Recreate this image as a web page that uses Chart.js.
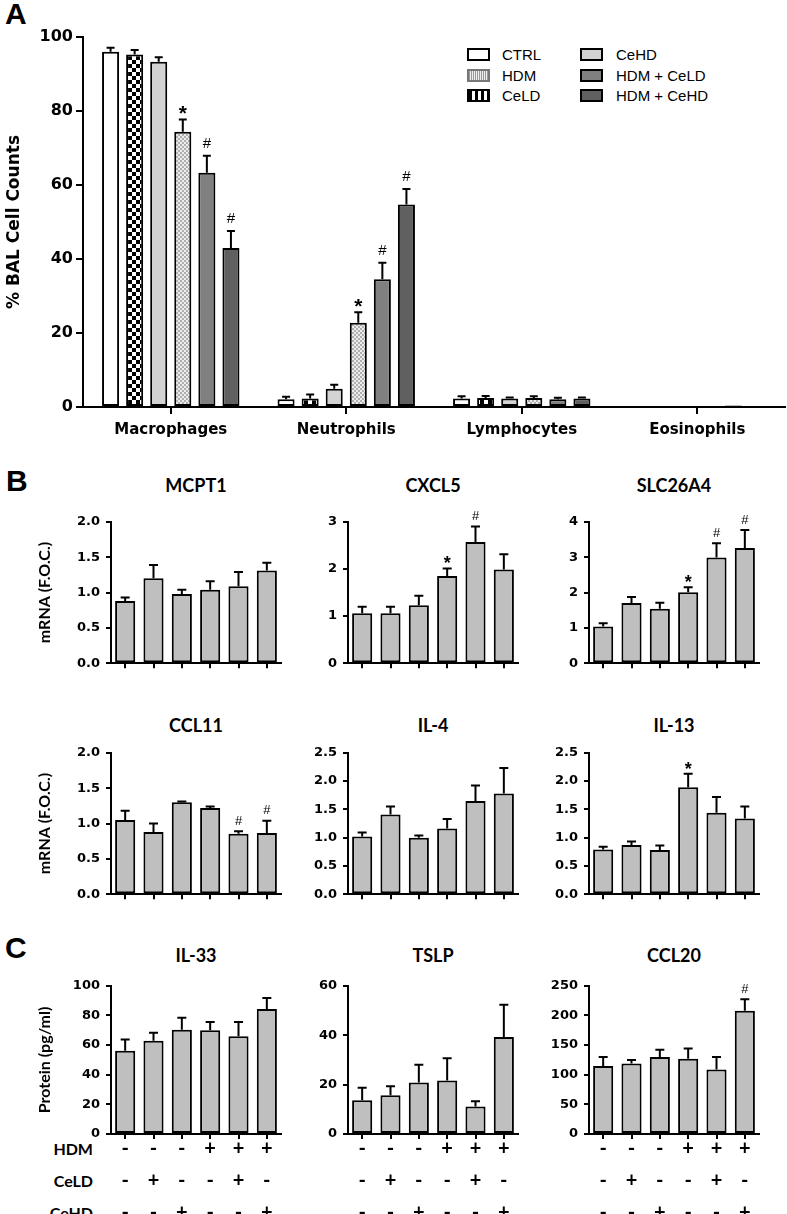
<!DOCTYPE html>
<html>
<head>
<meta charset="utf-8">
<script src="https://cdn.jsdelivr.net/npm/chart.js@4.4.0/dist/chart.umd.min.js"></script>
<style>
  body { margin: 0; background: #fff; width: 787px; height: 1214px; position: relative; overflow: hidden; }
  canvas { position: absolute; }
  .letter { position: absolute; font: bold 30px 'Liberation Sans', Arial, sans-serif; line-height: 30px; }
  .ttl { position: absolute; width: 200px; text-align: center; font: bold 18px Lato, sans-serif; line-height: 22px; }
  .row { position: absolute; width: 80px; text-align: right; font: bold 16px Lato, sans-serif; line-height: 20px; }
  .lg { position: absolute; font: 15px 'Liberation Sans', Arial, sans-serif; line-height: 18px; }
  .sw { position: absolute; width: 19px; height: 9px; border: 2px solid #000; }
</style>
</head>
<body>

<div class="letter" style="left:5px;top:-1px">A</div>
<div class="letter" style="left:6px;top:466px">B</div>
<div class="letter" style="left:5px;top:933px">C</div>

<!-- legend panel A -->
<div class="sw" style="left:467px;top:48px;background:#fff"></div>
<div class="lg" style="left:502px;top:46px">CTRL</div>
<div class="sw" style="left:467px;top:69px;border-color:#777;background:repeating-linear-gradient(90deg,#999 0 1px,#eee 1px 2px)"></div>
<div class="lg" style="left:502px;top:67px">HDM</div>
<div class="sw" style="left:467px;top:89px;background:repeating-linear-gradient(90deg,#000 0 3px,#fff 3px 6px)"></div>
<div class="lg" style="left:502px;top:87px">CeLD</div>
<div class="sw" style="left:580px;top:48px;background:#d3d3d3"></div>
<div class="lg" style="left:616px;top:46px">CeHD</div>
<div class="sw" style="left:580px;top:69px;background:#808080"></div>
<div class="lg" style="left:616px;top:67px">HDM + CeLD</div>
<div class="sw" style="left:580px;top:89px;background:#606060"></div>
<div class="lg" style="left:616px;top:87px">HDM + CeHD</div>

<canvas id="chartA" width="787" height="445" style="left:0;top:0"></canvas>

<div class="ttl" style="left:96px;top:474px">MCPT1</div>
<div class="ttl" style="left:333px;top:474px">CXCL5</div>
<div class="ttl" style="left:574px;top:474px">SLC26A4</div>
<div class="ttl" style="left:96px;top:714px">CCL11</div>
<div class="ttl" style="left:333px;top:714px">IL-4</div>
<div class="ttl" style="left:574px;top:714px">IL-13</div>
<div class="ttl" style="left:96px;top:944px">IL-33</div>
<div class="ttl" style="left:333px;top:944px">TSLP</div>
<div class="ttl" style="left:574px;top:944px">CCL20</div>

<div class="row" style="left:13px;top:1139px">HDM</div>
<div class="row" style="left:13px;top:1171px">CeLD</div>
<div class="row" style="left:13px;top:1203px">CeHD</div>

<script>
// ---- data: panel A (% BAL cell counts) ----
const cellTypes = ['Macrophages', 'Neutrophils', 'Lymphocytes', 'Eosinophils'];
const groupNames = ['CTRL', 'CeLD', 'CeHD', 'HDM', 'HDM + CeLD', 'HDM + CeHD'];
const ctrlPct = [96.0, 2.1, 2.3, 0.1];
const ctrlErr = [1.1, 0.7, 0.6, 0.05];
const celdPct = [95.3, 2.3, 2.4, 0.1];
const celdErr = [1.2, 1.1, 0.6, 0.05];
const cehdPct = [93.3, 4.9, 2.3, 0.1];
const cehdErr = [1.2, 1.1, 0.3, 0.05];
const hdmPct = [74.4, 22.8, 2.4, 0.3];
const hdmErr = [3.3, 2.8, 0.5, 0.1];
const hdmCeldPct = [63.3, 34.5, 2.1, 0.4];
const hdmCeldErr = [4.6, 4.5, 0.4, 0.1];
const hdmCehdPct = [43.0, 54.7, 2.3, 0.1];
const hdmCehdErr = [4.6, 4.2, 0.3, 0.05];
const hdmMarks = ['*', '*', '', ''];
const hdmCeldMarks = ['#', '#', '', ''];
const hdmCehdMarks = ['#', '#', '', ''];

// ---- data: panels B and C (6 groups each) ----
const hdmRow  = ['-', '-', '-', '+', '+', '+'];
const celdRow = ['-', '+', '-', '-', '+', '-'];
const cehdRow = ['-', '-', '+', '-', '-', '+'];

const mcpt1 = [0.88, 1.20, 0.98, 1.04, 1.09, 1.31];
const mcpt1Err = [0.05, 0.19, 0.06, 0.12, 0.20, 0.11];
const cxcl5 = [1.06, 1.06, 1.23, 1.85, 2.57, 1.99];
const cxcl5Err = [0.14, 0.14, 0.20, 0.16, 0.33, 0.32];
const cxcl5Marks = ['', '', '', '*', '#', ''];
const slc26a4 = [1.04, 1.70, 1.54, 2.01, 2.99, 3.26];
const slc26a4Err = [0.09, 0.17, 0.17, 0.14, 0.40, 0.51];
const slc26a4Marks = ['', '', '', '*', '#', '#'];
const ccl11 = [1.05, 0.88, 1.30, 1.22, 0.855, 0.865];
const ccl11Err = [0.13, 0.12, 0.01, 0.02, 0.035, 0.175];
const ccl11Marks = ['', '', '', '', '#', '#'];
const il4 = [1.02, 1.41, 1.00, 1.16, 1.65, 1.78];
const il4Err = [0.07, 0.14, 0.04, 0.17, 0.27, 0.45];
const il13 = [0.79, 0.87, 0.78, 1.89, 1.44, 1.34];
const il13Err = [0.05, 0.06, 0.08, 0.24, 0.28, 0.21];
const il13Marks = ['', '', '', '*', '', ''];
const il33 = [56.2, 62.9, 70.4, 70.0, 66.0, 84.4];
const il33Err = [7.5, 5.5, 8.0, 5.6, 9.6, 7.3];
const tslp = [13.7, 15.7, 20.9, 21.7, 11.1, 39.3];
const tslpErr = [5.0, 3.6, 7.1, 9.0, 2.2, 13.0];
const ccl20 = [114.6, 119.0, 129.7, 127.0, 109.0, 208.0];
const ccl20Err = [15.1, 6.0, 12.3, 17.3, 21.0, 19.5];
const ccl20Marks = ['', '', '', '', '', '#'];

Chart.defaults.font.family = "'DejaVu Sans', sans-serif";
Chart.defaults.color = '#000';
Chart.defaults.animation = false;

// fill patterns for CeLD (checkerboard) and HDM (fine stipple)
function makePattern(size, draw) {
    const c = document.createElement('canvas');
    c.width = size; c.height = size;
    const g = c.getContext('2d');
    draw(g);
    return g.createPattern(c, 'repeat');
}
const checker = makePattern(8, g => {
    g.fillStyle = '#fff'; g.fillRect(0, 0, 8, 8);
    g.fillStyle = '#000'; g.fillRect(0, 0, 4, 4); g.fillRect(4, 4, 4, 4);
});
const stipple = makePattern(4, g => {
    g.fillStyle = '#ececec'; g.fillRect(0, 0, 4, 4);
    g.fillStyle = '#b0b0b0'; g.fillRect(0, 0, 2, 2); g.fillRect(2, 2, 2, 2);
});

// error bars + significance marks, drawn through the y scale
const errorBars = {
    id: 'errorBars',
    afterDatasetsDraw(chart, args, opts) {
        const ctx = chart.ctx;
        const yScale = chart.scales.y;
        chart.data.datasets.forEach((ds, di) => {
            const meta = chart.getDatasetMeta(di);
            meta.data.forEach((bar, i) => {
                const err = ds.errors ? ds.errors[i] : 0;
                const top = yScale.getPixelForValue(ds.data[i] + err);
                ctx.save();
                ctx.strokeStyle = '#000';
                ctx.lineWidth = 2;
                if (err > 0 && bar.base - bar.y > 3) {
                    ctx.beginPath();
                    ctx.moveTo(bar.x, bar.y);
                    ctx.lineTo(bar.x, top);
                    ctx.moveTo(bar.x - opts.cap / 2, top);
                    ctx.lineTo(bar.x + opts.cap / 2, top);
                    ctx.stroke();
                }
                const mark = ds.marks ? ds.marks[i] : '';
                if (mark) {
                    ctx.fillStyle = '#000';
                    ctx.textAlign = 'center';
                    ctx.textBaseline = 'middle';
                    if (mark === '*') {
                        ctx.font = 'bold ' + opts.starSize + "px 'Liberation Sans'";
                        ctx.fillText('*', bar.x, top - opts.starGap);
                    } else {
                        ctx.font = opts.hashSize + "px 'Liberation Sans'";
                        ctx.fillText('#', bar.x, top - opts.hashGap);
                    }
                }
                ctx.restore();
            });
        });
    }
};

// ---- panel A ----
const fillsA = ['#ffffff', checker, '#d3d3d3', stipple, '#808080', '#606060'];
const seriesA = [ctrlPct, celdPct, cehdPct, hdmPct, hdmCeldPct, hdmCehdPct];
const errsA = [ctrlErr, celdErr, cehdErr, hdmErr, hdmCeldErr, hdmCehdErr];
const marksA = [null, null, null, hdmMarks, hdmCeldMarks, hdmCehdMarks];

new Chart(document.getElementById('chartA'), {
    type: 'bar',
    data: {
        labels: cellTypes,
        datasets: groupNames.map((name, k) => ({
            label: name,
            data: seriesA[k],
            errors: errsA[k],
            marks: marksA[k],
            backgroundColor: fillsA[k],
            borderColor: '#000',
            borderWidth: 2,
            borderSkipped: false,
            categoryPercentage: 0.823,
            barPercentage: 0.708
        }))
    },
    plugins: [errorBars],
    options: {
        responsive: false,
        layout: { padding: { top: 37, right: 2, left: 0, bottom: 0 } },
        plugins: {
            legend: { display: false },
            tooltip: { enabled: false },
            errorBars: { cap: 8, starSize: 21, starGap: 5, hashSize: 15, hashGap: 12 }
        },
        scales: {
            y: {
                min: 0, max: 100,
                ticks: { stepSize: 20, padding: 3, font: { size: 16, weight: 'bold' } },
                grid: { drawOnChartArea: false, tickLength: 7, color: '#000', lineWidth: 2 },
                border: { color: '#000', width: 2 },
                title: { display: true, text: '% BAL Cell Counts', padding: { top: 4, bottom: 0 }, font: { size: 17, weight: 'bold' } },
                afterFit: s => { s.width = 83; }
            },
            x: {
                ticks: { padding: 7, maxRotation: 0, font: { size: 15, weight: 'bold' } },
                grid: { offset: false, drawOnChartArea: false, tickLength: 7, color: '#000', lineWidth: 2 },
                border: { color: '#000', width: 2 },
                afterFit: s => { s.height = 38; }
            }
        }
    }
});

// ---- panels B and C: small charts ----
const colAxisX = [111, 348, 589];
const condLabels = hdmRow.map((h, i) => [h, celdRow[i], cehdRow[i]]);

function smallChart(o) {
    const yw = o.col === 0 ? 111 : 58;
    const plotW = 170, padTop = 12, padRight = 6;
    const xh = o.conds ? 90 : 8;
    const cv = document.createElement('canvas');
    cv.width = yw + plotW + padRight;
    cv.height = padTop + (o.bottom - o.top) + xh;
    cv.style.left = (colAxisX[o.col] - yw) + 'px';
    cv.style.top = (o.top - padTop) + 'px';
    document.body.appendChild(cv);

    new Chart(cv, {
        type: 'bar',
        data: {
            labels: condLabels,
            datasets: [{
                data: o.values,
                errors: o.errors,
                marks: o.marks || null,
                backgroundColor: '#bfbfbf',
                borderColor: '#000',
                borderWidth: 2,
                borderSkipped: false,
                categoryPercentage: 1,
                barPercentage: 0.71
            }]
        },
        plugins: [errorBars],
        options: {
            responsive: false,
            layout: { padding: { top: padTop, right: padRight, left: 0, bottom: 0 } },
            plugins: {
                legend: { display: false },
                tooltip: { enabled: false },
                errorBars: { cap: 9, starSize: 18, starGap: 4, hashSize: 13, hashGap: 10 }
            },
            scales: {
                y: {
                    min: 0, max: o.max,
                    ticks: { stepSize: o.step, padding: 6, font: { size: 13, weight: 'bold' },
                             callback: v => v.toFixed(o.dec) },
                    grid: { drawOnChartArea: false, tickLength: 5, color: '#000', lineWidth: 2 },
                    border: { color: '#000', width: 2 },
                    title: { display: !!o.yTitle, text: o.yTitle || '', padding: { top: 35, bottom: 0 },
                             font: { family: 'Lato', size: 16, weight: 'bold' } },
                    afterFit: s => { s.width = yw; }
                },
                x: {
                    ticks: { display: !!o.conds, padding: -6, maxRotation: 0, minRotation: 0, autoSkip: false,
                             font: { family: 'Lato', size: 20, weight: 'bold', lineHeight: '32px' } },
                    grid: { offset: false, drawOnChartArea: false, tickLength: 5, color: '#000', lineWidth: 2 },
                    border: { color: '#000', width: 2 },
                    afterFit: s => { s.height = xh; }
                }
            }
        }
    });
}

const rowB1 = { top: 520, bottom: 669 };
const rowB2 = { top: 751, bottom: 900 };
const rowC  = { top: 983.5, bottom: 1133.5 };

smallChart({ ...rowB1, col: 0, values: mcpt1, errors: mcpt1Err, max: 2, step: 0.5, dec: 1, yTitle: 'mRNA (F.O.C.)' });
smallChart({ ...rowB1, col: 1, values: cxcl5, errors: cxcl5Err, marks: cxcl5Marks, max: 3, step: 1, dec: 0 });
smallChart({ ...rowB1, col: 2, values: slc26a4, errors: slc26a4Err, marks: slc26a4Marks, max: 4, step: 1, dec: 0 });

smallChart({ ...rowB2, col: 0, values: ccl11, errors: ccl11Err, marks: ccl11Marks, max: 2, step: 0.5, dec: 1, yTitle: 'mRNA (F.O.C.)' });
smallChart({ ...rowB2, col: 1, values: il4, errors: il4Err, max: 2.5, step: 0.5, dec: 1 });
smallChart({ ...rowB2, col: 2, values: il13, errors: il13Err, marks: il13Marks, max: 2.5, step: 0.5, dec: 1 });

smallChart({ ...rowC, col: 0, values: il33, errors: il33Err, max: 100, step: 20, dec: 0, yTitle: 'Protein (pg/ml)', conds: true });
smallChart({ ...rowC, col: 1, values: tslp, errors: tslpErr, max: 60, step: 20, dec: 0, conds: true });
smallChart({ ...rowC, col: 2, values: ccl20, errors: ccl20Err, marks: ccl20Marks, max: 250, step: 50, dec: 0, conds: true });
</script>
</body>
</html>
